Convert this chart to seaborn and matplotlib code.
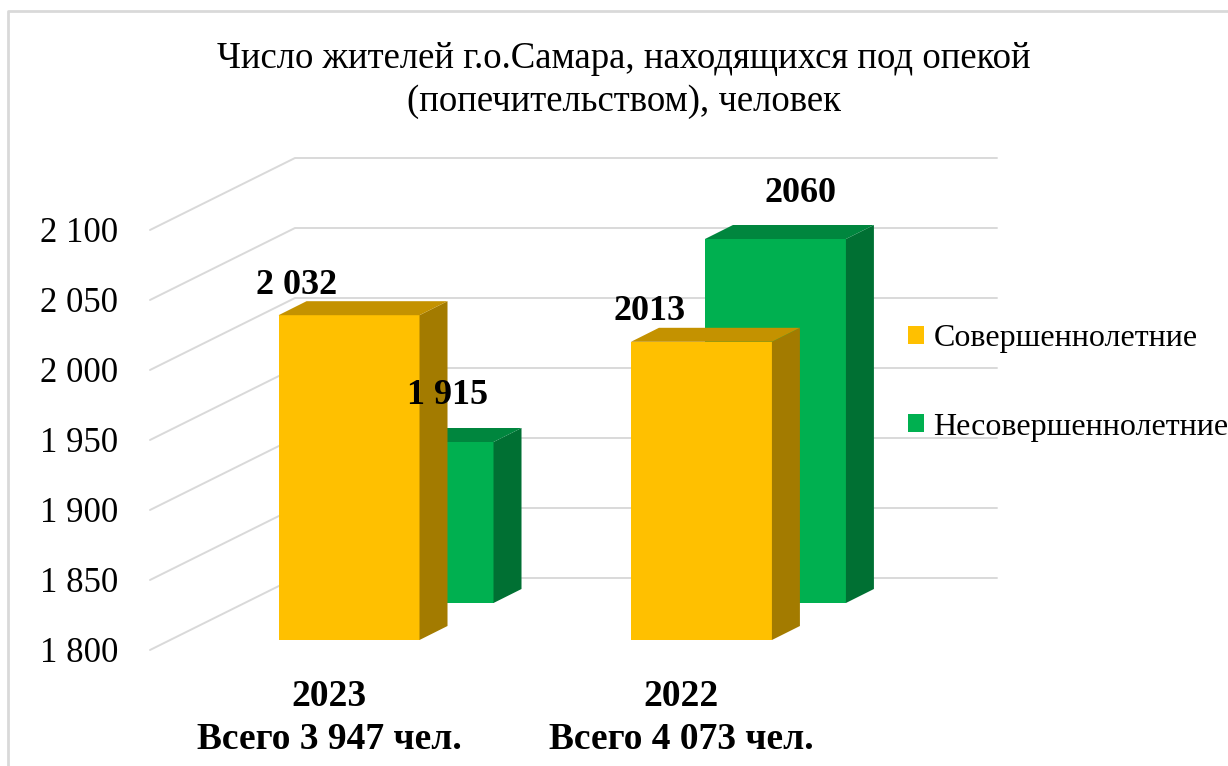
import matplotlib
matplotlib.use("Agg")
import matplotlib.pyplot as plt
from matplotlib.patches import Polygon, Patch
from matplotlib.lines import Line2D
import pandas as pd
import seaborn as sns

# data
years = ["2023", "2022"]
adults = [2032, 2013]
minors = [1915, 2060]
adult_labels = ["2 032", "2013"]
minor_labels = ["1 915", "2060"]
series_names = ["Совершеннолетние", "Несовершеннолетние"]
y_ticks = [1800, 1850, 1900, 1950, 2000, 2050, 2100]
title = "Число жителей г.о.Самара, находящихся под опекой\n(попечительством), человек"

W, H = 1228, 766
BASE = 1800
YELLOW = ("#FFC000", "#C49200", "#A37B00")   # front, top, side
GREEN = ("#00B050", "#00863E", "#007033")
GRID = "#D9D9D9"

sns.set_theme(style="white")
plt.rcParams["font.family"] = ["Liberation Serif", "DejaVu Serif"]
plt.rcParams["text.color"] = "black"

fig = plt.figure(figsize=(W / 100, H / 100), dpi=100)
# axes = front plane of the 3d box (floor front edge .. wall)
ax = fig.add_axes([150 / W, 1 - 650 / H, 702 / W, 420 / H])

df = pd.DataFrame({
    "year": years * 2,
    "value": adults + minors,
    "series": [series_names[0]] * 2 + [series_names[1]] * 2,
})

XLIM = (-0.508, 1.484)
YLIM = (BASE, 2100)
ppx = 702 / (XLIM[1] - XLIM[0])
ppy = 420 / (YLIM[1] - YLIM[0])


def px(dx, dy):
    """pixel shift (right, up) -> data units"""
    return dx / ppx, dy / ppy


def draw_row(name, colors, shift, z):
    n0 = len(ax.patches)
    sns.barplot(data=df[df.series == name], x="year", y="value", order=years,
                color=colors[0], saturation=1, width=0.4, linewidth=0,
                errorbar=None, ax=ax, zorder=z)
    bars = ax.patches[n0:]
    sx, sy = px(*shift)
    ddx, ddy = px(28, 14)   # bar depth
    for p in bars:
        val = p.get_height()
        p.set_x(p.get_x() + sx)
        p.set_y(BASE + sy)
        p.set_height(val - BASE)
        p.set_clip_on(False)
        x0, x1 = p.get_x(), p.get_x() + p.get_width()
        b, t = p.get_y(), p.get_y() + p.get_height()
        side = Polygon([(x1, b), (x1, t), (x1 + ddx, t + ddy), (x1 + ddx, b + ddy)],
                       closed=True, fc=colors[2], ec="none", zorder=z, clip_on=False)
        top = Polygon([(x0, t), (x1, t), (x1 + ddx, t + ddy), (x0 + ddx, t + ddy)],
                      closed=True, fc=colors[1], ec="none", zorder=z, clip_on=False)
        ax.add_patch(side)
        ax.add_patch(top)
    return bars


# back wall and side wall gridlines
wdx, wdy = px(145, 72)
for v in y_ticks:
    ax.plot([XLIM[0], XLIM[0] + wdx, XLIM[1] + wdx],
            [v, v + wdy, v + wdy], color=GRID, lw=1.4, zorder=1, clip_on=False)

# back row (minors) first, then front row (adults)
green_bars = draw_row(series_names[1], GREEN, (94, 47), 2)
yellow_bars = draw_row(series_names[0], YELLOW, (20, 10), 3)

ax.set_xlim(*XLIM)
ax.set_ylim(*YLIM)
for s in ax.spines.values():
    s.set_visible(False)
ax.grid(False)
ax.set_xlabel("")
ax.set_ylabel("")

ax.set_yticks(y_ticks)
ax.set_yticklabels([f"{v:,}".replace(",", " ") for v in y_ticks])
ax.tick_params(axis="y", length=0, pad=23, labelsize=25, labelcolor="black")

totals = [a + m for a, m in zip(adults, minors)]
ax.set_xticks(range(len(years)))
ax.set_xticklabels([f"{y}\nВсего {t:,} чел.".replace(",", " ") for y, t in zip(years, totals)],
                   fontweight="bold", linespacing=1.3)
ax.tick_params(axis="x", length=0, pad=21, labelsize=27, labelcolor="black")

# value labels
for bars, labels, off in [(yellow_bars, adult_labels, (-52, 30)),
                          (green_bars, minor_labels, (25, 46))]:
    ox, oy = px(*off)
    for p, lab in zip(bars, labels):
        ax.text(p.get_x() + p.get_width() / 2 + ox, p.get_y() + p.get_height() + oy, lab,
                ha="center", va="center", fontsize=26, fontweight="bold",
                color="black", zorder=5, clip_on=False)

fig.text(624 / W, 1 - 41 / H, title, ha="center", va="top", fontsize=26.5,
         color="black", linespacing=1.35)

handles = [Patch(fc=YELLOW[0], ec="none"), Patch(fc=GREEN[0], ec="none")]
fig.legend(handles, series_names, loc="center left", bbox_to_anchor=(908 / W, 1 - 383 / H),
           frameon=False, fontsize=23, handlelength=0.5, handleheight=0.5,
           handletextpad=0.3, labelspacing=1.85, borderpad=0, borderaxespad=0,
           labelcolor="black")

# chart area frame (only top/left edges fall inside the picture)
fig.add_artist(Line2D([8 / W, 8 / W, 1.01], [-0.01, 1 - 11 / H, 1 - 11 / H],
                      transform=fig.transFigure, color=GRID, lw=2))

fig.savefig("out.png", dpi=100)
